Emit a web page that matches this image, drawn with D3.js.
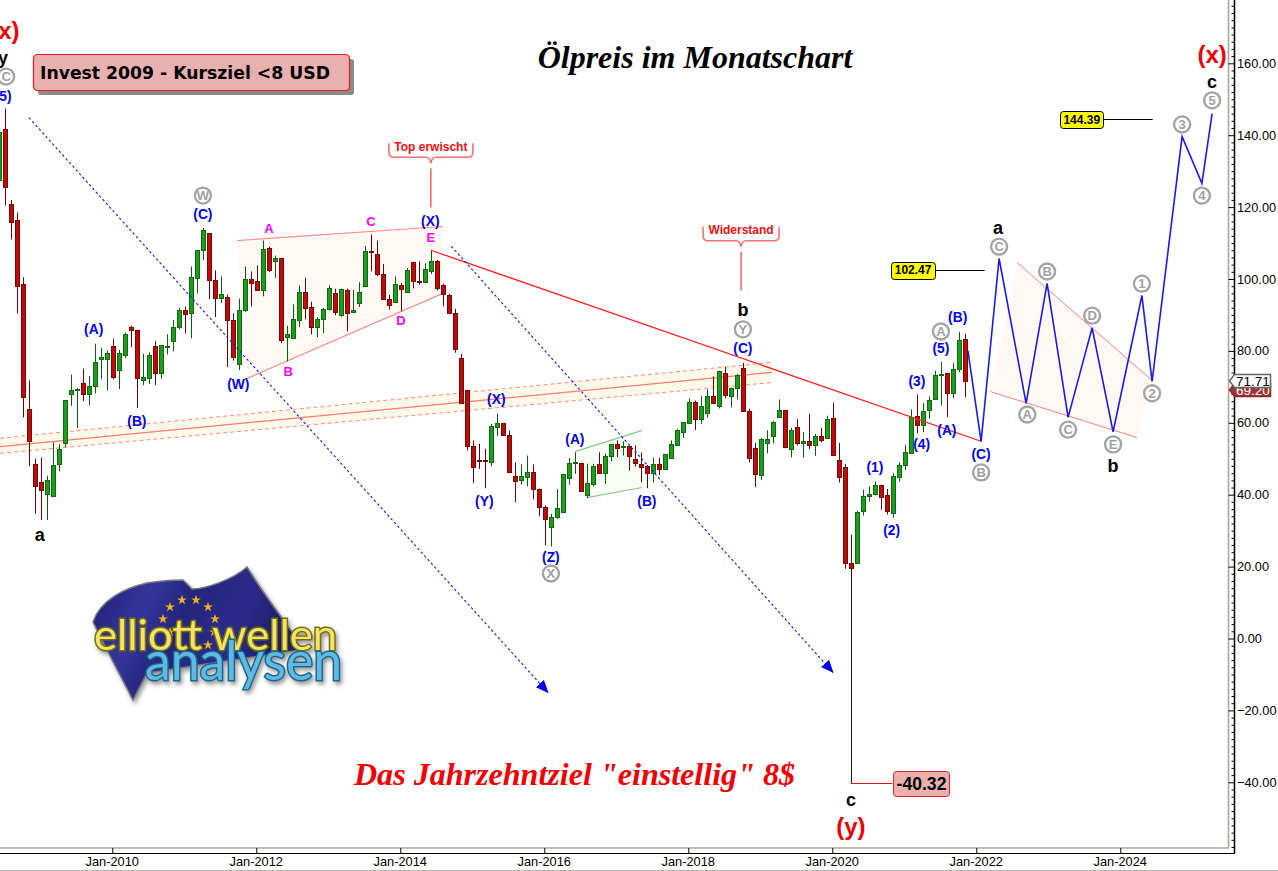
<!DOCTYPE html>
<html><head><meta charset="utf-8">
<style>html,body{margin:0;padding:0;background:#fff;overflow:hidden}svg{display:block}</style>
<script src="https://cdnjs.cloudflare.com/ajax/libs/d3/7.8.5/d3.min.js"></script>
</head><body><svg id="c" width="1278" height="871"></svg>
<script>
// Months counted from Jan-2010
const firstMonth = -19; // Jun-2008
const opens = [127.7,141.6,121,116.5,98.7,63.7,48.6,43.6,40.2,39.9,48.3,54.4,68,69.2,71.1,68,70.2,77.7,77.7,
81.4,74.7,78.9,86.7,85.9,72,72.5,81.4,73.9,81,82.8,86.7,
91.4,90.4,100.3,108.1,112.8,99.8,94.8,95.1,88.7,76.4,91.4,100,
99.5,97,108.7,105,105.9,83.9,83.5,88.7,96.4,92.3,86.7,88.9,
91.7,96.2,90,97,90.9,93.4,98,107.8,107,101.4,94.5,93.7,
98.4,96.4,104.8,99.5,99.2,102.3,105,98.4,95.6,90.6,78.1,69.2,
53.6,49.7,49.7,49.3,58.8,60,56.7,45.3,44,45,46.2,41.7,
36.7,31.2,33.8,35.1,44.7,48.8,48.9,40,43.2,48.6,46,50.8,
54.2,53.3,53.6,50,48.6,47.9,46,48.6,47.1,50.4,54,57.4,
59.9,65.8,61,62.8,67.5,64.6,73.9,67.7,69.9,75.3,63.4,53,
45.4,54.5,56.3,61.6,63.6,52.8,58.8,54.4,55,53.8,56.4,55.7,
61.4,49.7,47.6,21.1,21.1,35.5,39.6,40.4,42.8,39.8,34.9,45.1,
48.3,51.7,61.9,59.5,63.6,66.6,73.4,73.9,68.3,75,83.4];
const highs = [141,147.4,122,118.5,100.5,71.8,50,50.3,45.3,54.6,54,66.4,73.4,69.7,75.1,73,82,80.9,80.1,
83.4,80.3,85.1,87,85.9,79.2,79.6,82.8,81.7,84.6,88.6,92,
92.3,103.5,108.1,114.2,112.8,102.4,100.7,95.7,90.5,94.5,103.5,102.1,
103.8,110.7,109,106.5,105.9,87,92.9,98.2,100.3,93.7,89.4,92,
98.3,97.3,97.3,97.3,97,99.1,109.2,112.4,110.7,104.2,95.6,100.7,
98.9,103,104.8,104.9,104.4,108.1,105.3,98.7,95.9,91.7,79.2,69.2,
55.1,54.2,52.8,59.7,62.5,60,57.9,49,48.4,50.9,48.4,41.7,
37,34.7,41.6,45.8,50.2,51.8,48.9,48.6,48.6,51.8,51.4,54,
55.1,54.8,53.6,53.7,51.7,48.3,50.3,50.3,51.4,55.1,58.3,60.1,
66.8,66.2,67.4,69.3,72.9,74.5,75.5,69.8,73.6,76.7,63.9,54.4,
55.8,57.9,60.6,66.5,63.6,58.6,61,57.4,62.5,56.9,58.6,62,
65.6,54.4,48.6,28.9,35.5,41.4,42.3,43.7,42.8,41.6,46,49,
53.9,63.7,67.9,65.5,67.3,74.5,77,73.9,76.6,85.3,84.8];
const lows = [126,120.4,111,90.4,61.5,48,34.7,33,33,39.3,46.5,53.2,64.7,58.5,66,64.8,68.2,72.1,69,
72.1,69.4,78,81,64.1,70.5,70.8,70.5,72.3,79,79.9,86,
84.9,83.5,96,105.3,94.4,89.4,93.3,75.5,77.3,74.7,90.8,92.4,
97,95.2,101.9,100.3,82.1,77.1,83.5,86.6,88.8,84.6,83.8,84.9,
91.2,89.9,89.4,85.4,90.5,92.2,97.7,102.1,100.8,94.2,91.5,93.5,
91,96.2,97.4,98.4,98.9,101.4,96.8,92.4,90.3,79.5,65.7,52.3,
43.2,47.2,41.8,47.9,56.3,56.4,46.5,37.9,42.8,42.3,38.7,34,
25.9,25.6,33.3,34.9,42.8,45.8,41.2,39.1,42.3,46,43,49.3,
50.4,50.9,46.7,47.8,43.5,41.8,43.4,45.5,46.9,50.4,53.7,55.7,
59.7,58,59.7,61.4,65.2,64,66.8,64.3,66.5,63,49,42.1,
44.1,51.5,54.3,61.3,52.9,50.4,53.7,50.3,52.7,50.8,54.6,55.7,
50.8,43.4,19.4,16.1,21.1,34.2,38.1,39.8,35.8,34.5,33.6,43.6,
46.9,51.4,57.1,57.4,61.1,66.6,64.8,61.6,66.8,74.1,67.1];
const closes = [141,125.5,116,98.2,67.3,54.8,42.5,41.4,44,48.4,52.6,66.4,69.2,69.5,68,70.3,77,78.2,79.5,
72.7,79.5,84.8,86,72.5,72.8,78.9,73.9,81.7,81.3,86.7,91.4,
90.3,100.5,108.1,113.7,99.8,94.8,95.9,88.7,78.5,91.4,100,98.9,
97,108.4,102.7,105.9,83.1,84.7,88.9,96.4,92,86.7,88.9,91.7,
97.6,90.9,97.3,90.6,91.4,96.4,107.8,107.5,101.4,94.5,92.8,98.7,
97.3,102.6,99.5,99.2,102.9,105,97.5,95.9,90.6,80.6,65.7,53.5,
47.7,49.4,49.4,59.2,60,56.6,46.5,44,45.1,46.4,41.5,36.8,
33.5,33.9,36.3,45.8,48.9,49.2,41.2,43.3,48.1,46,50.8,54,
53.2,53.6,50.7,49,47.9,46,48.6,47.1,51.4,54.2,58.1,60.1,
65.8,61,64.7,67.5,65.5,74.3,67.7,69.8,73.4,63.2,50.4,45.8,
55.4,55.5,60.1,63.6,53.2,58.1,54.4,55,53.8,56.2,55.3,61.1,
51.2,45.1,20.9,19.6,35.3,39.7,40.2,42.8,39.6,35.4,45.1,48.4,
52,61.7,59.3,63.4,66.4,73.4,73.6,68.2,75,83,71.71];

const yearTicks = [2010,2012,2014,2016,2018,2020,2022,2024];
const priceTicks = d3.range(-40,161,20);
const flagValues = [102.47,144.39,-40.32];
const lastPrices = [71.71,69.2];

// Projected path and drawn lines, [month, price]
const projection = [[142.6,80.1],[144.8,54.8],[147.8,105.7],[152.3,65.4],[155.8,98.8],[159.3,61.5],[163.3,86.4],[166.8,57.5],[171.6,95.4],[173.3,71.5],[178.3,139.6],[181.6,126.6],[183.3,146]];
const triangleLeft = [[20.8,110.7],[55.1,114.6],[55.1,96],[22.4,72.3]];
const triangleRight = [[150.8,104.6],[173.3,71.8],[170.8,55.9],[146.3,68.7]];
const greenBox = [[77.1,52],[88.3,57.9],[88.3,42],[79.1,39.2]];
const trendLine = [[53.1,108],[144.9,54.8]];
const channelMid = [[-18.7,53.4],[109.9,74]];
const channelUp = [[-18.7,55.7],[109.9,76.8]];
const channelLow = [[-18.7,51.5],[109.9,71.2]];
const arrowOne = [[-13.9,144.9],[72.6,-15]];
const arrowTwo = [[56.5,109.1],[120.1,-9.4]];

const blackLabels = [["y",-18.2,161.6],["a",-12.1,28.9],["b",105.1,91.5],["c",123.1,-44.8],["a",147.6,114.3],["b",166.8,48.1],["c",183.3,154.9]];
const redLabels = [["(x)",-17.9,169.1],["(x)",183.3,162.4],["(y)",123.1,-52.3]];
const circleLabels = [["C",-17.7,156.3],["W",15.1,123.2],["Y",105.1,86],["X",73.1,18.1],["A",138.1,85.4],["B",144.8,46.2],["C",147.8,109],["A",152.5,62.3],["B",155.8,102.1],["C",159.3,58.1],["D",163.3,89.8],["E",166.8,54],["1",171.6,98.7],["2",173.3,68.2],["3",178.3,143],["4",181.6,123.2],["5",183.3,149.7]];
const blueLabels = [["(5)",-18.2,151],["(C)",15.1,118.2],["(A)",-3.1,86],["(B)",4.1,60.4],["(W)",21,70.7],["(X)",53,116],["(X)",64,66.5],["(Y)",62,38.1],["(Z)",73.1,22.8],["(A)",77.1,55.6],["(B)",89.1,38.1],["(C)",105.1,80.9],["(1)",127.1,47.6],["(2)",129.9,30.3],["(3)",134.1,71.5],["(4)",134.9,54.2],["(5)",138.1,80.7],["(A)",139.1,58.1],["(B)",140.9,89.3],["(C)",144.8,51.2]];
const pinkLabels = [["A",26.1,114],["C",43.1,116],["E",53.1,111.5],["B",29.3,74.3],["D",48.1,88.5]];

const svg = d3.select("#c");
const x = d3.scaleLinear().domain([0,144]).range([112.3,976.3]);
const y = d3.scaleLinear().domain([-40,160]).range([782.3,63.3]);
const cx = i => x(firstMonth+i+0.12);
const pt = d => [x(d[0]),y(d[1])];
const line = d3.line().x(d=>x(d[0])).y(d=>y(d[1]));
const SANS = "'Liberation Sans',Arial,sans-serif", SERIF = "'Liberation Serif','Times New Roman',serif";

// Defs
const defs = svg.append("defs");
defs.append("marker").attr("id","ah").attr("viewBox","0 0 12 10").attr("refX",11).attr("refY",5)
 .attr("markerWidth",13).attr("markerHeight",11).attr("markerUnits","userSpaceOnUse").attr("orient","auto")
 .append("path").attr("d","M0,0L12,5L0,10Z").attr("fill","#0000e6");
const gflag = defs.append("linearGradient").attr("id","flagG").attr("x1",0).attr("x2",1).attr("y1",0).attr("y2",.3);
[[0,"#1d1f6e"],[.3,"#33349c"],[.5,"#24267a"],[.75,"#2b2c8c"],[1,"#1c1e66"]].forEach(s=>gflag.append("stop").attr("offset",s[0]).attr("stop-color",s[1]));
const blur = defs.append("filter").attr("id","soft").attr("x","-10%").attr("y","-10%").attr("width","120%").attr("height","130%");
blur.append("feDropShadow").attr("dx",2).attr("dy",3).attr("stdDeviation",2).attr("flood-color","#555").attr("flood-opacity",.6);

// Filled regions
svg.append("path").attr("d","M"+[...channelUp.map(pt),...channelLow.slice().reverse().map(pt)].join("L")+"Z").attr("fill","#fff9e9");
svg.append("path").attr("d","M"+triangleLeft.map(pt).join("L")+"Z").attr("fill","#fff9f5");
svg.append("path").attr("d","M"+triangleRight.map(pt).join("L")+"Z").attr("fill","#fff8f5");
svg.append("path").attr("d","M"+greenBox.map(pt).join("L")+"Z").attr("fill","#f7fcf5");

const stroke=(d,c,w,dash)=>svg.append("path").attr("d",line(d)).attr("fill","none").attr("stroke",c).attr("stroke-width",w).attr("stroke-dasharray",dash||null);
stroke(channelMid,"#ff7b70",1.3);
stroke(channelUp,"#ff8a80",1,"4,3");
stroke(channelLow,"#ff8a80",1,"4,3");
stroke([triangleLeft[0],triangleLeft[1]],"#ff8c8c",1.2);
stroke([triangleLeft[3],triangleLeft[2]],"#ff8c8c",1.2);
stroke([triangleRight[0],triangleRight[1]],"#ff8080",1);
stroke([triangleRight[3],triangleRight[2]],"#ff8080",1);
stroke([greenBox[0],greenBox[1]],"#8ac88a",1.2);
stroke([greenBox[3],greenBox[2]],"#8ac88a",1.2);

// Candles
const candles = opens.map((o,i)=>({i,o,h:highs[i],l:lows[i],c:closes[i]}));
const gC = svg.append("g");
gC.selectAll("line").data(candles).join("line")
 .attr("x1",d=>Math.round(cx(d.i))+.5).attr("x2",d=>Math.round(cx(d.i))+.5)
 .attr("y1",d=>y(d.h)).attr("y2",d=>y(d.l))
 .attr("stroke",d=>d.c>=d.o?"#0b5c0b":"#5f0606").attr("stroke-width",1);
gC.selectAll("rect").data(candles).join("rect")
 .attr("x",d=>Math.round(cx(d.i))-1.5).attr("width",4)
 .attr("y",d=>Math.round(y(Math.max(d.o,d.c)))+.5).attr("height",d=>Math.max(1,Math.round(Math.abs(y(d.o)-y(d.c)))))
 .attr("fill",d=>d.c>=d.o?"#1f9c1f":"#bc0c0c").attr("stroke",d=>d.c>=d.o?"#0f6a0f":"#7c0505").attr("stroke-width",1);

// Lines over candles
stroke(trendLine,"#ff2020",1.3);
stroke(arrowOne,"#1414f0",1.1,"2.5,2.5").attr("marker-end","url(#ah)");
stroke(arrowTwo,"#1414f0",1.1,"2.5,2.5").attr("marker-end","url(#ah)");
stroke(projection,"#1a1af0",1.6);

// -40.32 wick and flag
const wickX=Math.round(x(123.1))+.5;
svg.append("line").attr("x1",wickX).attr("x2",wickX).attr("y1",y(19.6)).attr("y2",y(flagValues[2])).attr("stroke","#3a0c0c");
const flag=(v,mFrom,mTo,boxX,w,h,fill,edge,fs)=>{
 const ly=Math.round(y(v))+.5;
 svg.append("line").attr("x1",x(mFrom)).attr("x2",x(mTo)).attr("y1",ly).attr("y2",ly).attr("stroke",edge=="#000"?"#000":"#e01010");
 svg.append("rect").attr("x",Math.round(x(boxX))+.5).attr("y",Math.round(y(v)-h/2)+.5).attr("width",w).attr("height",h).attr("rx",3).attr("fill",fill).attr("stroke",edge);
 svg.append("text").attr("x",x(boxX)+w/2).attr("y",y(v)+fs*.36).attr("text-anchor","middle").attr("font-family",SANS).attr("font-weight","bold").attr("font-size",fs).text(v.toFixed(2));
};
flag(flagValues[0],136.6,145.4,129.8,44,17,"#ffff00","#000",12);
flag(flagValues[1],158.2,173.4,158,43,17,"#ffff00","#000",12);
flag(flagValues[2],123.1,130,130.2,56,25,"#e9b0b0","#f02020",17.6);

// Callouts
const callout=(txt,m,pTop,pBot,w)=>{
 const cxx=x(m), top=y(pTop), g=svg.append("g"), s=top-25, h=top-11;
 g.append("path").attr("d",`M${cxx-w/2},${s}V${h-5}q0,5 5,5H${cxx-5}q4,0 5,6q1,-6 5,-6H${cxx+w/2-5}q5,0 5,-5V${s}`).attr("fill","none").attr("stroke","#ff7070").attr("stroke-width",1.6);
 g.append("line").attr("x1",cxx).attr("x2",cxx).attr("y1",top).attr("y2",y(pBot)).attr("stroke","#ee1010");
 g.append("text").attr("x",cxx).attr("y",top-17.5).attr("text-anchor","middle").attr("font-family",SANS).attr("font-weight","bold").attr("font-size",12).attr("fill","#f01010").text(txt);
};
callout("Top erwischt",53.1,130.8,119.9,84);
callout("Widerstand",104.8,107.6,96.8,76);

// Labels
const lab=(arr,font,fs,fill,wt)=>svg.append("g").selectAll("text").data(arr).join("text")
 .attr("x",d=>x(d[1])).attr("y",d=>y(d[2])+fs*.36).attr("text-anchor","middle")
 .attr("font-family",font).attr("font-size",fs).attr("font-weight",wt||"bold").attr("fill",fill).text(d=>d[0]);
lab(blackLabels,SANS,18,"#000");
lab(redLabels,SANS,24,"#f00000");
lab(blueLabels,SANS,13.8,"#0000f0");
lab(pinkLabels,SANS,13,"#ff00ff","bold");
const gc=svg.append("g").selectAll("g").data(circleLabels).join("g").attr("transform",d=>`translate(${x(d[1])},${y(d[2])})`);
gc.append("circle").attr("r",8).attr("fill","#fff").attr("stroke","#a4a4a4").attr("stroke-width",2.4);
gc.append("text").attr("y",4.7).attr("text-anchor","middle").attr("font-family",SANS).attr("font-size",13).attr("font-weight","bold").attr("fill","#a0a0a0").text(d=>d[0]);

// Title texts
svg.append("text").attr("x",695).attr("y",68).attr("text-anchor","middle").attr("font-family",SERIF).attr("font-weight","bold").attr("font-style","italic").attr("font-size",32).text("Ölpreis im Monatschart");
svg.append("text").attr("x",574.5).attr("y",785).attr("text-anchor","middle").attr("font-family",SERIF).attr("font-weight","bold").attr("font-style","italic").attr("font-size",32.1).attr("fill","#f00000").text('Das Jahrzehntziel "einstellig" 8$');

// Box
svg.append("rect").attr("x",38).attr("y",59).attr("width",316).attr("height",36).attr("rx",3).attr("fill","#8a8a8a");
svg.append("rect").attr("x",33.5).attr("y",54.5).attr("width",316).attr("height",36).attr("rx",4).attr("fill","#e9b0b0").attr("stroke","#f01818").attr("stroke-width",1.2);
svg.append("text").attr("x",40).attr("y",78.5).attr("font-family","'DejaVu Sans',Verdana,sans-serif").attr("font-weight","bold").attr("font-size",17).attr("textLength",290).attr("lengthAdjust","spacingAndGlyphs").text("Invest 2009 - Kursziel <8 USD");

// Logo (drawn, not data)
const logo=svg.append("g").attr("filter","url(#soft)");
logo.append("path").attr("d","M93,622C100,600 125,588 147,583C160,581 172,580 183,580L192,589C205,589 232,580 247,567C258,585 272,605 293,633L300,650L147,673L133,700L107,650Z").attr("fill","url(#flagG)").attr("stroke","#77777f").attr("stroke-width",1.5);
const stars=[[170,607],[182,600],[196,600],[208,607],[215,619],[163,619],[214,632],[208,645],[170,632]];
logo.selectAll("path.s").data(stars).join("path").attr("class","s").attr("d",d3.symbol(d3.symbolStar,30)).attr("transform",d=>`translate(${d[0]},${d[1]})`).attr("fill","#f0b020");
logo.append("text").attr("x",94).attr("y",650).attr("font-family","Lato,'Open Sans',sans-serif").attr("font-size",42).attr("textLength",243).attr("lengthAdjust","spacingAndGlyphs").attr("fill","#f3e468").attr("stroke","#77700e").attr("stroke-width",3).attr("paint-order","stroke").text("elliott wellen");
logo.append("text").attr("x",145).attr("y",680).attr("font-family","Lato,'Open Sans',sans-serif").attr("font-size",54).attr("textLength",197).attr("lengthAdjust","spacingAndGlyphs").attr("fill","#62b8e0").attr("stroke","#146a92").attr("stroke-width",3).attr("paint-order","stroke").text("analysen");

// Frame and axes
svg.append("line").attr("x1",1228.5).attr("x2",1228.5).attr("y1",0).attr("y2",848).attr("stroke","#aaa99a").attr("stroke-width",1.6);
svg.append("line").attr("x1",0).attr("x2",1229).attr("y1",848).attr("y2",848).attr("stroke","#aaa99a").attr("stroke-width",1.4);
svg.append("line").attr("x1",0).attr("x2",1278).attr("y1",870.5).attr("y2",870.5).attr("stroke","#b5b5b0").attr("stroke-width",1);

const minor=d3.range(-58,177,2);
const yG=svg.append("g").attr("transform","translate(1234.5,0)").attr("font-family",SANS);
const yAxis=d3.axisLeft(y).tickValues(minor).tickSize(0).tickFormat("");
yG.call(yAxis); yG.select(".domain").remove();
yG.selectAll("g.tick line").attr("x2",d=>d%20===0?-6:-3).attr("stroke","#000");
yG.append("line").attr("y1",0).attr("y2",853).attr("stroke","#000").attr("stroke-width",1.5);
const yLab=svg.append("g").selectAll("text").data(priceTicks).join("text").attr("x",1237).attr("y",d=>y(d)+4.5)
 .attr("font-family",SANS).attr("font-size",12.8).attr("fill","#000").text(d=>d3.format(".2f")(d));

const xMonths=yearTicks.map(v=>(v-2010)*12);
const xG=svg.append("g").attr("transform","translate(0,853)");
xG.call(d3.axisTop(x).tickValues(xMonths).tickSize(5).tickFormat(""));
xG.select(".domain").remove(); xG.selectAll("line").attr("stroke","#000");
svg.append("line").attr("x1",0).attr("x2",1235).attr("y1",853.5).attr("y2",853.5).attr("stroke","#000").attr("stroke-width",1.2);
svg.append("g").selectAll("text").data(yearTicks).join("text").attr("x",d=>x((d-2010)*12)).attr("y",866).attr("text-anchor","middle")
 .attr("font-family",SANS).attr("font-size",12.8).text(d=>"Jan-"+d);

// Last price tags
const tag=(v,fill,edge,txt)=>{
 const t=Math.round(y(v));
 svg.append("path").attr("d",`M1229.5,${t}l5,-6.5h36v13h-36z`).attr("fill",fill).attr("stroke",edge).attr("stroke-width",1.5);
 svg.append("text").attr("x",1253).attr("y",t+5).attr("text-anchor","middle").attr("font-family",SANS).attr("font-size",13.5).attr("fill",txt).text(v.toFixed(2));
};
tag(lastPrices[1],"#a03434","#8a2a2a","#fff");
tag(lastPrices[0],"#fff","#666","#000");
</script></body></html>
